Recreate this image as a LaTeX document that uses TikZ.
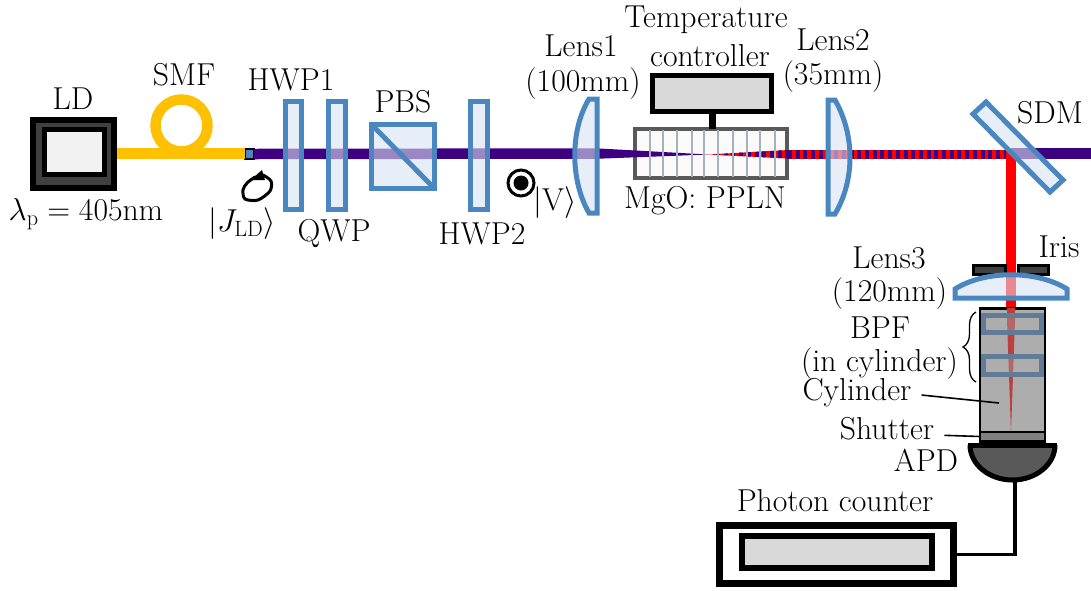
\RequirePackage{fix-cm}
\documentclass[tikz,border=0pt]{standalone}
\usepackage{amsmath, amssymb}
\usetikzlibrary{arrows.meta, positioning, decorations.pathreplacing}
\definecolor{lensblue}{HTML}{4A86C0}
\definecolor{tint}{HTML}{D9E3F2}
\definecolor{pump}{HTML}{3D0080}
\definecolor{fiber}{HTML}{FFC000}
\definecolor{redbeam}{HTML}{FF0000}

\begin{document}
\begin{tikzpicture}[
  x=1pt, y=-1pt,
  lbl/.style={inner sep=0pt, font=\fontsize{31.7}{37}\selectfont},
  solid box/.style={rectangle, inner sep=0pt, outer sep=0pt},
  optic/.style={draw=lensblue, line width=5pt, fill=tint, fill opacity=.6, line join=miter},
  plate/.style={optic, solid box, minimum width=16.5pt, minimum height=108pt},
  blackbox/.style={solid box, draw=black, line width=5.5pt},
  pumpline/.style={draw=pump, line width=10.5pt},
  redline/.style={draw=redbeam, line width=10pt},
  stripe/.style={draw=pump, line width=10pt, dash pattern=on 4pt off 3.7pt},
  leader/.style={line width=1.6pt}
]
\useasboundingbox (0,0) rectangle (1091,590);

% source and fibre
\node[solid box, fill=black, minimum width=87pt, minimum height=74pt] (ld) at (73.5,154) {};
\node[solid box, fill=black!75, minimum width=75pt, minimum height=62pt] at (73.5,154) {};
\node[solid box, fill=black, minimum width=65pt, minimum height=50pt] at (74.5,152) {};
\node[solid box, fill=black!5, minimum width=55pt, minimum height=40pt] at (74.5,152) {};
\node[circle, draw=fiber, line width=10.5pt, minimum size=52pt, inner sep=0pt] (loop) at (181.5,125.5) {};
\node[solid box, fill=lensblue, draw=black, line width=2pt, minimum width=9pt, minimum height=10pt] (conn) at (249.5,154) {};
\draw[draw=fiber, line width=11pt] (ld.east |- 0,153.5) -- (conn.west |- 0,153.5);

% beams
\coordinate (lens1in) at (597,153.5);
\coordinate (sdmhit) at (1011,153.5);
\coordinate (beamend) at (1091,153.5);
\coordinate (cylin) at (1011,307);
\node[solid box, draw=black!65, fill=black!2, line width=3.5pt, minimum width=152pt, minimum height=49pt] (ppln) at (711,153.5) {};
\draw[pumpline] (conn.east) -- (lens1in);
\fill[pump] (596,148.3) -- (708,154.5) -- (596,158.8) -- cycle;
\begin{scope}
  \clip (708,154.5) -- (788,150) -- (788,158.5) -- cycle;
  \draw[redline] (700,154.5) -- (790,154.5);
  \draw[stripe] (716,154.5) -- (790,154.5);
\end{scope}
\draw[redline, line width=9.5pt] (788,154.5) -- (sdmhit |- 0,154.5);
\draw[stripe, line width=9.5pt] (788,154.5) -- (1006,154.5);
\draw[pumpline] (sdmhit) -- (beamend);
\draw[redline] (sdmhit) -- (cylin);

% domains of the crystal
\foreach \xd in {650,663,677,692,704,718,733,747,760,775}
  \draw[draw=lensblue!45!black!40, line width=2pt] (\xd,130) -- (\xd,177);

% optics
\node[plate] (hwpa) at (293.5,155.5) {};
\node[plate] (qwp) at (337,155.5) {};
\node[optic, solid box, minimum width=63pt, minimum height=64pt] (pbs) at (402.5,156) {};
\draw[draw=lensblue, line width=5pt] (pbs.north west) -- (pbs.south east);
\node[plate] (hwpb) at (479,155.5) {};
\draw[optic] (597,99) -- (589,99) .. controls (570,130) and (570,180) .. (589,213) -- (597,213) -- cycle;
\draw[optic] (828,100) -- (835,100) .. controls (855,135) and (855,180) .. (835,214) -- (828,214) -- cycle;
\draw[optic] (986,102) -- (1063,180) -- (1050,192) -- (973,114) -- cycle;

% controller
\node[blackbox, fill=black!15, minimum width=119pt, minimum height=36pt] (ctrl) at (712,93.5) {};
\draw[line width=7pt] (ctrl.south) -- (ctrl.south |- ppln.north);

% iris and third lens
\node[solid box, draw=black, fill=black!75, line width=3pt, minimum width=32pt, minimum height=9pt] (irisa) at (989.5,270) {};
\node[solid box, draw=black, fill=black!75, line width=3pt, minimum width=30pt, minimum height=9pt] (irisb) at (1033.5,270) {};
\draw[optic] (955,298) -- (955,289) .. controls (985,270) and (1037,270) .. (1067,289) -- (1067,298) -- cycle;

% cylinder
\node[solid box, draw=black, fill=black!32, line width=2.5pt, minimum width=65pt, minimum height=133pt] (cyl) at (1012.5,375) {};
\fill[color=red!65!black!75] (1007,308) -- (1015,308) -- (1015,320) -- (1011,432) -- (1007,320) -- cycle;
\node[solid box, draw=lensblue!60!black!75, fill=black!32, fill opacity=.35, line width=5pt, minimum width=58pt, minimum height=17pt] (bpfa) at (1012.5,323.5) {};
\node[solid box, draw=lensblue!60!black!75, fill=black!32, fill opacity=.35, line width=5pt, minimum width=58pt, minimum height=18pt] (bpfb) at (1012.5,365.5) {};
\node[solid box, draw=black, fill=black!50, line width=2.5pt, minimum width=65pt, minimum height=9pt] (shut) at (1012.5,436.5) {};

% detector and counter
\draw[draw=black, fill=black!65, line width=5pt] (970,445) arc[start angle=180, end angle=360, x radius=42.5pt, y radius=35pt];
\draw[line width=5pt] (968,445) -- (1057,445);
\coordinate (apdout) at (1015,481);
\node[blackbox, fill=white, line width=7pt, minimum width=234pt, minimum height=58pt] (counter) at (836.5,554.5) {};
\node[blackbox, fill=black!15, minimum width=190pt, minimum height=32pt] (counterin) at (837,552) {};
\draw[line width=3.5pt] (apdout) |- (counter.east);

% polarisation marks
\draw[line width=3pt, line cap=round] plot[smooth] coordinates {(263,175) (271,181) (270,191) (258,200) (245,199) (243,190) (247,183) (255,177)};
\fill (262,170) -- (250.5,180) -- (265,180) -- cycle;
\node[circle, draw=black, line width=3pt, minimum size=26pt, inner sep=0pt] (vmark) at (521,183) {};
\fill (vmark.center) circle (7.5pt);

% labels
\node[lbl] (ldlbl) at (73,99) {LD};
\node[lbl] (smflbl) at (184,75) {SMF};
\node[lbl] (hwpalbl) at (291,80) {HWP1};
\node[lbl] (pbslbl) at (403,102) {PBS};
\node[lbl] (qwplbl) at (334,234) {QWP};
\node[lbl] (hwpblbl) at (482,234) {HWP2};
\node[lbl] (lamlbl) at (86,214) {$\lambda_{\mathrm{p}}=405\mathrm{nm}$};
\node[lbl] (jlbl) at (242,224) {$|J_{\mathrm{LD}}\rangle$};
\node[lbl] (vlbl) at (555,203) {$|\mathrm{V}\rangle$};
\node[lbl] (lensalbl) at (581,46) {Lens1};
\node[lbl] (lensaflbl) at (583,84) {(100mm)};
\node[lbl] (templbl) at (706,20) {Temperature};
\node[lbl] (ctrllbl) at (710,56) {controller};
\node[lbl] (lensblbl) at (833,40) {Lens2};
\node[lbl] (lensbflbl) at (833,77) {(35mm)};
\node[lbl] (pplnlbl) at (705,201) {MgO: PPLN};
\node[lbl] (sdmlbl) at (1050,113) {SDM};
\node[lbl] (irislbl) at (1059,247) {Iris};
\node[lbl] (lensclbl) at (889,258) {Lens3};
\node[lbl] (griplbl) at (889.5,294) {(120mm)};
\node[lbl] (bpflbl) at (880,328) {BPF};
\node[lbl] (incyllbl) at (879.5,364) {(in cylinder)};
\node[lbl] (cyllbl) at (857,393) {Cylinder};
\node[lbl] (shutlbl) at (887,429) {Shutter};
\node[lbl] (apdlbl) at (926,460) {APD};
\node[lbl] (countlbl) at (835,501) {Photon counter};

\coordinate (cylpt) at (999,403);
\draw[leader, shorten <=10pt] (cyllbl.east) ++(0,1) -- (cylpt);
\draw[leader, shorten <=10pt] (shutlbl.east) ++(0,6) -- (shut.west);
\draw[line width=1.3pt, decorate, decoration={brace, amplitude=13pt, aspect=.5}] (976,382) -- (976,312);
\end{tikzpicture}
\end{document}
